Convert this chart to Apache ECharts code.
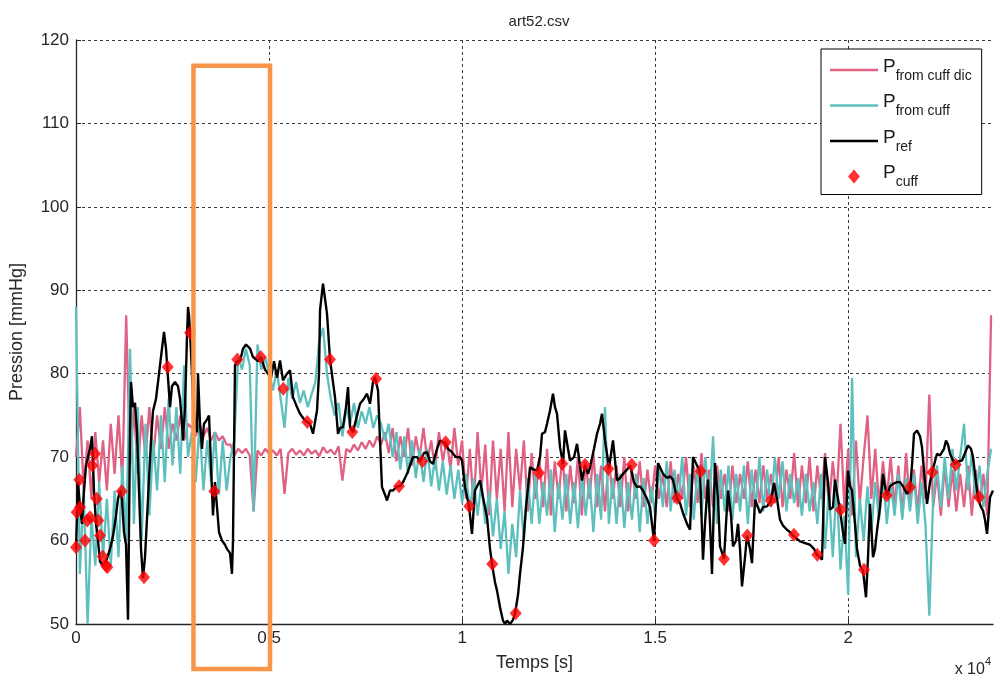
<!DOCTYPE html>
<html><head><meta charset="utf-8">
<script src="https://cdn.jsdelivr.net/npm/echarts@6/dist/echarts.min.js"></script>
<style>html,body{margin:0;padding:0;background:#fff}#c{width:994px;height:681px}</style>
</head><body><div id="c"></div>
<script>
// ---------- DATA ----------
const xTickValues = [0, 5000, 10000, 15000, 20000];
const yTickValues = [50, 60, 70, 80, 90, 100, 110, 120];

// uniform sampling step of the two noisy estimates
const sampleStep = 100;

const fromCuffDic = [
  70,76,66,72,65,73,67,72,66,74,
  68,75,67,87,69,76,68,75,70,76,
  70,75,71,76,71,74,72,75,72,74,
  73.5,72.5,74,72.5,73.5,72,73,72,72.5,71.5,
  71.5,70.2,71,70.5,71,70.2,63.5,70.8,70.2,71,
  70.4,70.8,70.2,71,65.6,70.5,71,70.3,70.8,70.2,
  71,70.4,70.8,70.1,71.2,70.5,70.9,70.3,71.3,67.2,
  71,70.6,71.5,70.8,71.8,71,72,71.2,72.5,71.5,
  73,70.5,73.5,69.5,72.5,70,73.5,69,72.5,70,
  73.5,69.5,72,68.5,73,69.5,72,68.5,73.5,69,
  72,65,71,64,73,66,71.5,63,72,65,
  71,63.5,73,64,71,66,72,63.5,70.5,65,
  70,64,71,63,69.5,65,70.5,63.5,69,64.5,
  70,63,69.5,65,70.5,64,69,63.5,70,65,
  69,64,70,63.5,68.5,65,69.5,64,68.5,64.5,
  69,65,68,64,69.5,64.5,68,65,70,64,
  69,64.5,70.5,65,68.5,64,69,65,68,63.5,
  69,64.5,68,65,69.5,64,68.5,64.5,69,65,
  68,64.5,70,64,68.5,65,70.5,64,69,64.5,
  70,63.5,69,65,70.5,64,69.5,65,74,64,
  71,63,72,64.5,70,75,65,71,64,69.5,
  65,70,64,69,63,70.5,64,68.5,63.5,69,
  65,77.5,64,68,63,69,64,68.5,63.5,68,
  64,69,63,68.5,64.5,68,63,87
];

const fromCuff = [
  88,56,66,50,63,57,67,58,65,57,
  66,58,69,60,83,62,76,60,74,63,
  72,66,75,67,77,69,76,68,81,70,
  73,67,74,66,72,67,73,65.5,72,66,
  70,72,82,80.5,83,81,63.5,83.5,80.5,82,
  80,78,80.5,77,73.5,79.5,77,79,76.5,78,
  76,77.5,79,84,85.5,80,77,75,76.5,72.5,
  76,74,76.5,73.5,75.5,74,76,73.5,75,74,
  72,74,70,73,68.5,72.5,68,72,67.5,71,
  67,71,66.5,70,66,69.5,65.5,69,65,68.5,
  64.5,68,63.5,67.5,63,67,62,66,60.5,65,
  59,63.5,56,62,58,66,60,67.5,62,68,
  62,67,63,68.5,61,67,62.5,68,62,67,
  61.5,68,63,67.5,61,68,62.5,76,62,67.5,
  62,68,61.5,67,62.5,68,61,67.5,62,66.5,
  63,69,64,69.5,63.5,68.5,64.5,70,63,68,
  62.5,69,63,70,64,72.5,62,68.5,63.5,69,
  62.5,68,63.5,69,62,68.5,64,70,63.5,68.5,
  64,70,65,69.5,63.5,68,64.5,67.5,63,68,
  63.5,67,62,68,59,66,58,67,56.5,63,
  53.5,79.5,58,65,60,66.5,61,67,62.5,68,
  62,67,63,68,62.5,67.5,63.5,68,62,67,
  62,51,65,69,64,70,65,71,66,70,
  74,66,70.5,65,69,64,68,71
];

const refTime = [
  0,26,52,104,155,207,259,311,363,414,
  466,518,570,622,699,777,881,958,1036,1088,
  1140,1191,1243,1295,1347,1399,1425,1476,1528,1580,
  1632,1684,1735,1787,1865,1943,1994,2072,2150,2227,
  2279,2331,2383,2435,2486,2564,2642,2694,2745,2771,
  2823,2875,2901,2927,2953,3004,3030,3082,3134,3160,
  3212,3263,3315,3393,3445,3471,3522,3548,3600,3652,
  3704,3781,3859,3911,3989,4040,4066,4118,4170,4248,
  4325,4403,4507,4584,4714,4792,4895,4973,5051,5128,
  5206,5284,5361,5465,5543,5620,5724,5802,5931,6061,
  6138,6242,6294,6320,6397,6449,6501,6579,6656,6708,
  6786,6838,6915,6993,7045,7097,7174,7252,7356,7459,
  7537,7615,7692,7744,7822,7874,7925,8003,8055,8133,
  8210,8314,8392,8469,8573,8651,8728,8832,8910,9013,
  9091,9169,9246,9350,9428,9557,9635,9738,9842,9946,
  9997,10075,10179,10256,10334,10464,10541,10645,10723,10774,
  10852,10904,10982,11059,11111,11163,11241,11318,11370,11448,
  11500,11577,11655,11759,11862,11940,12018,12069,12147,12199,
  12277,12354,12406,12458,12536,12613,12665,12743,12795,12898,
  12976,13054,13105,13183,13261,13313,13416,13494,13572,13623,
  13701,13753,13805,13908,14012,14090,14167,14271,14349,14452,
  14530,14608,14685,14789,14867,14970,15074,15204,15307,15385,
  15462,15566,15644,15721,15825,15903,15980,16084,16162,16239,
  16291,16369,16421,16472,16550,16628,16680,16783,16835,16887,
  16965,17016,17094,17146,17198,17249,17327,17379,17457,17508,
  17586,17664,17716,17793,17897,18001,18078,18156,18234,18311,
  18415,18493,18570,18674,18752,18881,19011,19114,19192,19270,
  19321,19399,19477,19529,19606,19658,19736,19788,19865,19917,
  19995,20047,20098,20176,20228,20306,20383,20461,20513,20565,
  20642,20694,20746,20824,20901,20953,21005,21083,21160,21264,
  21342,21419,21523,21601,21652,21704,21782,21860,21911,21989,
  22041,22119,22170,22248,22300,22378,22429,22481,22533,22585,
  22637,22714,22766,22844,22947,23025,23103,23180,23232,23310,
  23362,23440,23491,23543,23595,23673,23750
];
const refPressure = [
  59,63,67,64,62,66,69,70,71,72.5,
  66,62,60,57.5,57,57.5,59,60.5,63,65,
  66,65,61,59.5,50.5,73,79,76,76.5,73,
  66,59,55.5,58,65,72,75.5,77,80,83,
  85,83,79.5,76,78.5,79,78.5,77,74,72,
  76,84.5,88,87,85,80,77,74,73,80,
  74,71,74,74.5,75,72,66,63,67,64,
  61,60,59.5,59,58.5,56,60,81,81.5,81.5,
  83,83.5,83,82,81.5,82,80.5,80,79.5,81.5,
  79.5,81.6,79.2,80,80.4,77.2,76,75.2,74.4,74,
  72.8,75.6,80,87.6,90.8,89,87.2,81.7,79,77.2,
  72.8,73.5,73.6,76,78.4,73.6,73,74.5,76.4,77,
  77.6,76.4,79,79.6,78,72,66.4,65.5,64.8,66,
  66,66.5,66.5,67,68,69,70,70,69.5,70.5,
  70.6,69.5,69.2,71,72,71.7,71,70.6,70,70,
  69.6,66.4,64.1,60.8,66,67.2,65.2,62.8,59,57.2,
  55,54,52,50.4,50,50.4,50,50.5,51.2,53.5,
  56,59.2,64,68.8,68.5,68.4,70,72.8,73,74,
  75.6,77.6,76,75.2,71.2,69.2,73.2,71,69.6,70,
  71.6,69,67.2,69,68,68.8,71,72.8,74,75.2,
  72,70.4,68.7,72,67.2,67.5,68,68.5,69,67,
  66.4,66.5,66,65,64,60,69.3,68,67.5,67.7,
  67.3,65,64.5,63.3,62,61.3,70,69,68.3,57.7,
  62,67.3,62,56,69.3,65,59.3,57.8,62,66,
  63,59.3,60,62,59,54.5,58,60.6,59,57.3,
  64.9,64,63.3,64,64.1,64.8,66.9,65,62.5,61.8,
  61.3,61,60.6,60.2,59.9,59.7,59.5,59,58.3,58,
  57.7,70,67,63.7,64,67.3,65,63.6,61,59.6,
  68.4,66.5,66,62,59,57,56.4,53.2,58,64.4,
  58,59,61.2,64,68,66.5,65.4,66.5,66.8,67,
  67,66.5,65.6,66.2,69,72.8,73.2,72.5,71.2,67,
  64.4,67,68.1,69.5,70.4,70.2,70,71,72,71.5,
  70.4,69.6,69.2,69.5,69.6,70.5,71.4,71,70,67,
  65,64,63.6,62.5,60.8,65.2,66
];

const cuffTime = [
  0,18,85,104,233,293,363,422,492,536,
  578,622,692,777,811,1184,1761,2375,2953,3582,
  4178,4784,5369,5991,6579,7156,7770,8366,8969,9575,
  10187,10782,11388,11992,12595,13183,13787,14393,14970,15574,
  16180,16783,17387,17993,18596,19200,19806,20409,20997,21601,
  22179,22784,23388
];
const cuffPressure = [
  59.2,63.4,67.3,64,60,62.4,62.8,69,70.4,65,
  62.4,60.6,58.1,57,56.8,65.9,55.6,80.8,84.9,65.9,
  81.7,82,78.2,74.2,81.7,73,79.4,66.5,69.5,71.8,
  64.1,57.2,51.3,68.1,69.2,69.1,68.6,69.1,60,65.1,
  68.3,57.8,60.6,64.8,60.7,58.3,63.7,56.5,65.4,66.4,
  68.2,69.1,65.2
];

// annotation box (orange frame), in data units
const boxTimes = [3043, 5025];
const boxPressures = [116.9, 44.6];

// ---------- CHART ----------
const FONT = '"Liberation Sans", Arial, sans-serif';
const TITLE_FONT = '"Liberation Sans Narrow", "Liberation Sans", Arial, sans-serif';
const TXT = '#262626';
const pair = (ts, vs) => vs.map((v, i) => [ts[i], v]);
const stepTimes = arr => arr.map((_, i) => i * sampleStep);

const chart = echarts.init(document.getElementById('c'), null, {renderer: 'canvas'});
const gridLine = {show: true, lineStyle: {type: [3, 3], color: '#3a3a3a', width: 1}};
const LINE_ICON = 'path://M0,0L48,0L48,2.6L0,2.6Z';
const DIAMOND_ICON = 'path://M6,0L12,7L6,14L0,7Z';

const option = {
  animation: false,
  backgroundColor: '#ffffff',
  textStyle: {fontFamily: FONT},
  title: {
    text: 'art52.csv', left: 534, top: 9, textAlign: 'center',
    textStyle: {fontSize: 15, fontWeight: 'normal', color: TXT, fontFamily: TITLE_FONT}
  },
  grid: {left: 76, right: 1, top: 40, bottom: 57},
  xAxis: {
    type: 'value', min: 0, max: 23750, interval: 5000,
    name: 'Temps [s]', nameLocation: 'middle', nameGap: 30,
    nameTextStyle: {fontSize: 18, color: TXT, fontFamily: FONT},
    axisLine: {show: true, lineStyle: {color: TXT, width: 1.3}},
    axisTick: {show: true, inside: true, length: 5, lineStyle: {color: TXT}},
    axisLabel: {
      fontSize: 17, color: TXT, margin: 6, showMaxLabel: false, fontFamily: FONT,
      formatter: v => xTickValues.includes(v) ? String(v / 10000) : ''
    },
    splitLine: Object.assign({showMinLine: false, showMaxLine: false}, gridLine)
  },
  yAxis: {
    type: 'value', min: 50, max: 120, interval: 10,
    name: 'Pression [mmHg]', nameLocation: 'middle', nameGap: 50,
    nameTextStyle: {fontSize: 18, color: TXT, fontFamily: FONT},
    axisLine: {show: true, lineStyle: {color: TXT, width: 1.3}},
    axisTick: {show: true, inside: true, length: 5, lineStyle: {color: TXT}},
    axisLabel: {
      fontSize: 17, color: TXT, margin: 7, fontFamily: FONT,
      formatter: v => yTickValues.includes(v) ? String(v) : ''
    },
    splitLine: Object.assign({showMinLine: false, showMaxLine: true}, gridLine)
  },
  legend: {
    orient: 'vertical', left: 821, top: 49,
    padding: [8, 10, 5, 9], itemGap: 9.5, itemWidth: 48, itemHeight: 14,
    symbolKeepAspect: true,
    backgroundColor: '#ffffff', borderColor: '#000000', borderWidth: 1, borderRadius: 0,
    data: [
      {name: 'P_from cuff dic', icon: LINE_ICON},
      {name: 'P_from cuff', icon: LINE_ICON},
      {name: 'P_ref', icon: LINE_ICON},
      {name: 'P_cuff', icon: DIAMOND_ICON}
    ],
    formatter: n => '{p|P}{s|' + n.slice(2) + '}',
    textStyle: {
      fontFamily: FONT,
      rich: {
        p: {fontSize: 19, lineHeight: 26, padding: [0, 0, 4, 0], verticalAlign: 'top', color: '#1a1a1a', fontFamily: FONT},
        s: {fontSize: 14, lineHeight: 14, verticalAlign: 'bottom', color: '#1a1a1a', fontFamily: FONT}
      }
    }
  },
  series: [
    {
      name: 'P_from cuff dic', type: 'line', symbol: 'none',
      data: pair(stepTimes(fromCuffDic), fromCuffDic),
      lineStyle: {color: '#df6183', width: 2.3}, itemStyle: {color: '#df6183'}, z: 2
    },
    {
      name: 'P_from cuff', type: 'line', symbol: 'none',
      data: pair(stepTimes(fromCuff), fromCuff),
      lineStyle: {color: '#5ebfbf', width: 2.3}, itemStyle: {color: '#5ebfbf'}, z: 3
    },
    {
      name: 'P_ref', type: 'line', symbol: 'none',
      data: pair(refTime, refPressure),
      lineStyle: {color: '#000000', width: 2.4}, itemStyle: {color: '#000000'}, z: 4
    },
    {
      name: 'P_cuff', type: 'scatter', symbol: 'diamond', symbolSize: [12, 14],
      data: pair(cuffTime, cuffPressure),
      itemStyle: {color: '#ff0000'}, z: 5
    }
  ],
  graphic: [{
    id: 'exp', type: 'text', right: 3, top: 656, z: 10,
    style: {
      text: '{b|x 10}{s|4}',
      rich: {
        b: {fontSize: 16, fontFamily: FONT, fill: TXT, lineHeight: 22, verticalAlign: 'bottom'},
        s: {fontSize: 11, fontFamily: FONT, fill: TXT, lineHeight: 9, verticalAlign: 'top'}
      }
    }
  }]
};
chart.setOption(option);

// orange frame placed through the chart's own coordinate system
const p1 = chart.convertToPixel({gridIndex: 0}, [boxTimes[0], boxPressures[0]]);
const p2 = chart.convertToPixel({gridIndex: 0}, [boxTimes[1], boxPressures[1]]);
chart.setOption({
  graphic: [{
    id: 'frame', type: 'rect', z: 20, silent: true,
    shape: {x: p1[0], y: p1[1], width: p2[0] - p1[0], height: p2[1] - p1[1]},
    style: {fill: 'none', stroke: '#f7964a', lineWidth: 4.5}
  }]
});
</script></body></html>
